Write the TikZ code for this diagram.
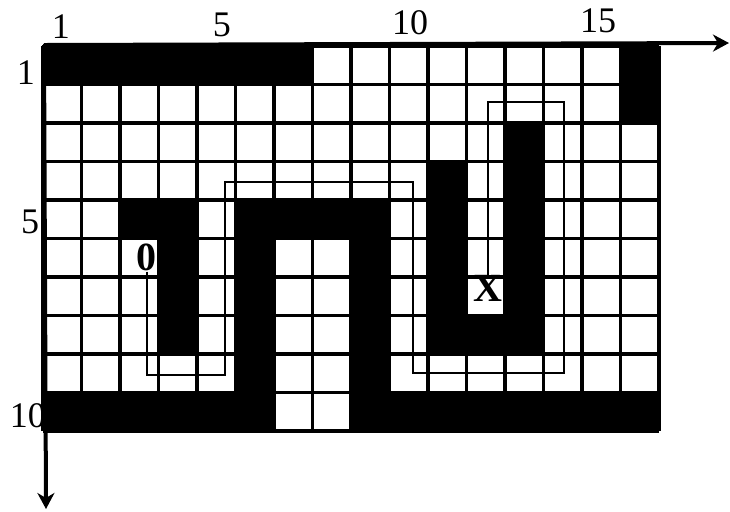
\documentclass[tikz,border=0pt]{standalone}
\usepackage{fontspec}
\setmainfont{Liberation Serif}
\usetikzlibrary{arrows.meta}
\begin{document}
\begin{tikzpicture}[x=0.5pt,y=-0.5pt,
  gridline/.style={line width=1.7pt},
  axisline/.style={line width=2pt,-{Stealth[length=8pt,width=8.5pt,inset=2.5pt]}},
  pathline/.style={line width=1.1pt},
  lbl/.style={font=\fontsize{18}{18}\selectfont, inner sep=0pt},
  mark0/.style={font=\fontsize{20}{20}\selectfont\bfseries, inner sep=0pt},
  blk/.style={fill=black}]
\useasboundingbox (0,0) rectangle (730,511);
% axis labels
\node[lbl] (c1) at (61,27) {1};
\node[lbl] (c5) at (222,25) {5};
\node[lbl] (c10) at (410,23) {10};
\node[lbl] (c15) at (598,21) {15};
\node[lbl] (r1) at (26,73) {1};
\node[lbl] (r5) at (30,222) {5};
\node[lbl] (r10) at (28,416) {10};
% axes
\coordinate (org) at (44,45);
\coordinate (xend) at (729,43);
\coordinate (yend) at (46,509);
\begin{scope}[shift={(43,46)}, x=19.25pt, y=-19.25pt]
  % black cells
  \fill[blk] (0,0) rectangle (7,1);
  \fill[blk] (15,0) rectangle (16,2);
  \fill[blk] (2,4) rectangle (4,5);
  \fill[blk] (3,4) rectangle (4,8);
  \fill[blk] (5,4) rectangle (9,5);
  \fill[blk] (5,4) rectangle (6,10);
  \fill[blk] (8,4) rectangle (9,10);
  \fill[blk] (0,9) rectangle (6,10);
  \fill[blk] (8,9) rectangle (16,10);
  \fill[blk] (10,3) rectangle (11,8);
  \fill[blk] (12,2) rectangle (13,8);
  \fill[blk] (10,7) rectangle (13,8);
  % grid
  \foreach \i in {0,...,16} \draw[gridline] (\i,0) -- (\i,10);
  \foreach \j in {0,...,10} \draw[gridline] (0,\j) -- (16,\j);
  % markers
  \node[mark0] (o) at (2.7,5.5) {0};
  \node[mark0] (x) at (11.56,6.3) {X};
  % route
  \draw[pathline] (o.south) -- (2.7,8.55) -- (4.72,8.55) -- (4.72,3.53) -- (9.6,3.53)
     -- (9.6,8.5) -- (13.53,8.5) -- (13.53,1.45) -- (11.56,1.45) -- (x.north);
\end{scope}
\draw[axisline] (org) -- (xend);
\draw[axisline] (org) -- (yend);
\end{tikzpicture}
\end{document}
